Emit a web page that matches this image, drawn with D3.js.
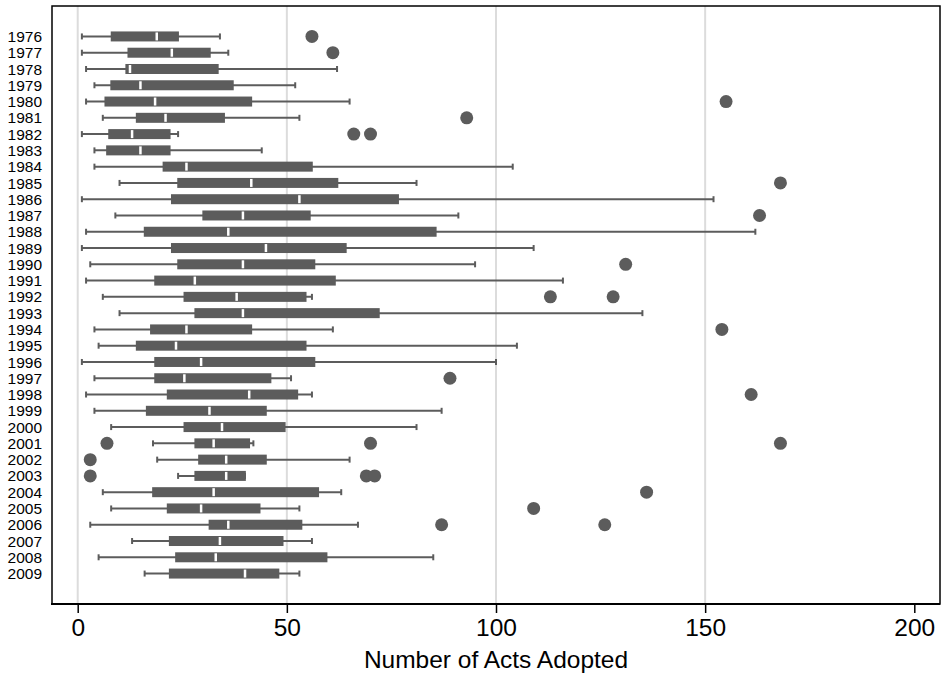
<!DOCTYPE html>
<html>
<head>
<meta charset="utf-8">
<script src="https://cdn.jsdelivr.net/npm/d3@7"></script>
<style>
  html, body { margin: 0; padding: 0; background: #fff; }
  svg { display: block; font-family: "Liberation Sans", Arial, Helvetica, sans-serif; }
</style>
</head>
<body>
<svg id="chart" width="941" height="675"></svg>
<script>
// Number of acts adopted per year: box plot summaries
const years = d3.range(1976, 2010).map(String);
const lowWhisker  = [1, 1, 2, 4, 2, 6, 1, 4, 4, 10, 1, 9, 2, 1, 3, 2, 6, 10, 4, 5, 1, 4, 2, 4, 8, 18, 19, 24, 6, 8, 3, 13, 5, 16];
const q1          = [7.9, 11.9, 11.4, 7.8, 6.4, 13.9, 7.3, 6.8, 20.3, 23.8, 22.3, 29.8, 15.8, 22.3, 23.8, 18.3, 25.3, 27.9, 17.3, 13.9, 18.3, 18.3, 21.3, 16.3, 25.3, 27.9, 28.8, 27.9, 17.8, 21.3, 31.3, 21.8, 23.3, 21.8];
const medians     = [18.9, 22.5, 12.5, 15, 18.5, 21, 13, 15, 26, 41.5, 53, 39.5, 36, 45, 39.5, 28, 38, 39.5, 26, 23.5, 29.5, 25.5, 41, 31.5, 34.5, 32.5, 35.5, 35.5, 32.5, 29.5, 36, 34, 33, 40];
const q3          = [24.2, 31.8, 33.7, 37.3, 41.7, 35.2, 22.2, 22.2, 56.2, 62.3, 76.8, 55.7, 85.8, 64.3, 56.8, 61.7, 54.7, 72.2, 41.7, 54.7, 56.8, 46.3, 52.7, 45.2, 49.7, 41.2, 45.2, 40.2, 57.7, 43.7, 53.7, 49.2, 59.7, 48.2];
const highWhisker = [34, 36, 62, 52, 65, 53, 24, 44, 104, 81, 152, 91, 162, 109, 95, 116, 56, 135, 61, 105, 100, 51, 56, 87, 81, 42, 65, 40, 63, 53, 67, 56, 85, 53];
const outliers    = [[56], [61], [], [], [155], [93], [66, 70], [], [], [168], [], [163], [], [], [131], [], [113, 128], [], [154], [], [], [89], [161], [], [], [7, 70, 168], [3], [3, 69, 71], [136], [109], [87, 126], [], [], []];
const xTicks = [0, 50, 100, 150, 200];
const xTitle = "Number of Acts Adopted";

const boxColor = "#5c5c5c";
const svg = d3.select("#chart");

// plot region
const plotLeft = 52, plotRight = 940, plotTop = 6, plotBottom = 604;

const x = d3.scaleLinear().domain([0, 200]).range([77.7, 914.3]);
const y = d3.scalePoint().domain(years).range([plotTop, plotBottom]).padding(1.87);

const rows = years.map((yr, i) => ({
  year: yr, lo: lowWhisker[i], q1: q1[i], med: medians[i], q3: q3[i], hi: highWhisker[i], out: outliers[i]
}));

// gridlines
svg.append("g")
  .selectAll("line")
  .data(xTicks.filter(t => t < 200))
  .join("line")
  .attr("x1", d => x(d)).attr("x2", d => x(d))
  .attr("y1", plotTop).attr("y2", plotBottom)
  .attr("stroke", "#dcdcdc").attr("stroke-width", 2);

const boxH = 10, capH = 6;
const g = svg.append("g");

const row = g.selectAll("g.row").data(rows).join("g").attr("class", "row")
  .attr("transform", d => `translate(0,${y(d.year)})`);

// whiskers
row.append("line")
  .attr("x1", d => x(d.lo)).attr("x2", d => x(d.hi))
  .attr("y1", 0).attr("y2", 0)
  .attr("stroke", boxColor).attr("stroke-width", 2);
row.selectAll("line.cap").data(d => [d.lo, d.hi]).join("line").attr("class", "cap")
  .attr("x1", v => x(v)).attr("x2", v => x(v))
  .attr("y1", -capH / 2).attr("y2", capH / 2)
  .attr("stroke", boxColor).attr("stroke-width", 2);

// boxes
row.append("rect")
  .attr("x", d => x(d.q1)).attr("width", d => x(d.q3) - x(d.q1))
  .attr("y", -boxH / 2).attr("height", boxH)
  .attr("fill", boxColor);

// medians
row.append("line")
  .attr("x1", d => x(d.med)).attr("x2", d => x(d.med))
  .attr("y1", -boxH / 2 + 1).attr("y2", boxH / 2 - 1)
  .attr("stroke", "#fff").attr("stroke-width", 2.5);

// outside values
row.selectAll("circle").data(d => d.out).join("circle")
  .attr("cx", v => x(v)).attr("cy", 0).attr("r", 6.5)
  .attr("fill", boxColor);

// year labels
svg.append("g")
  .selectAll("text")
  .data(years)
  .join("text")
  .attr("x", 42).attr("y", d => y(d))
  .attr("dy", "0.36em")
  .attr("text-anchor", "end")
  .attr("font-size", 15.5)
  .attr("fill", "#000")
  .text(d => d);

// frame
svg.append("rect")
  .attr("x", plotLeft).attr("y", plotTop)
  .attr("width", plotRight - plotLeft).attr("height", plotBottom - plotTop)
  .attr("fill", "none").attr("stroke", "#000").attr("stroke-width", 1.5);

// x axis
const xAxis = svg.append("g")
  .attr("transform", `translate(0,${plotBottom})`)
  .call(d3.axisBottom(x).tickValues(xTicks).tickSize(9).tickPadding(6).tickFormat(d3.format("d")));
xAxis.select(".domain").remove();
xAxis.selectAll(".tick line").attr("stroke", "#000").attr("stroke-width", 1.5);
xAxis.selectAll(".tick text")
  .attr("font-size", 24.5)
  .attr("font-family", "'Liberation Sans', Arial, sans-serif")
  .attr("fill", "#000");
svg.append("line")
  .attr("x1", plotLeft - 1).attr("x2", plotRight)
  .attr("y1", plotBottom).attr("y2", plotBottom)
  .attr("stroke", "#000").attr("stroke-width", 2.2);

svg.append("text")
  .attr("x", x(100)).attr("y", 668)
  .attr("text-anchor", "middle")
  .attr("font-size", 24.5)
  .attr("fill", "#000")
  .text(xTitle);
</script>
</body>
</html>
